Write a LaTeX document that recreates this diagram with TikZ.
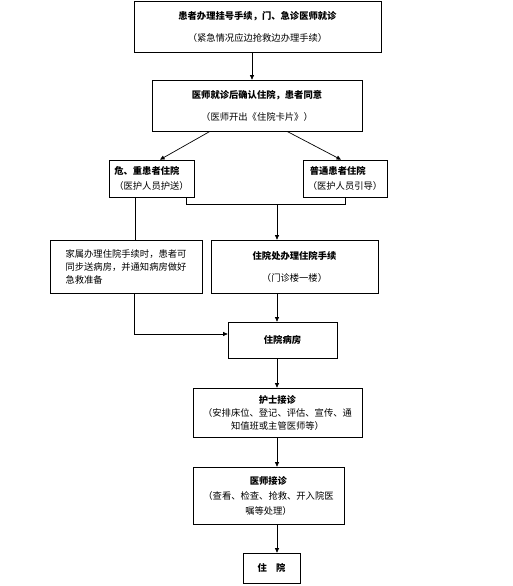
\documentclass[tikz,border=0pt]{standalone}
\usepackage{fontspec}
\setmainfont{Noto Sans CJK SC}
\usetikzlibrary{arrows.meta}

\begin{document}
\begin{tikzpicture}[x=1pt,y=-1pt,>={Triangle[length=4.5pt,width=4pt]},
  box/.style={draw,line width=0.7pt,inner sep=0pt,align=center,font=\fontsize{9.3}{13}\selectfont},
  link/.style={line width=0.7pt}]
\useasboundingbox (0,0) rectangle (513,586);
%boxes
\node[box,minimum width=247,minimum height=51](guahao) at (257.5,26.5){\textbf{患者办理挂号手续，门、急诊医师就诊}\\[9pt]（紧急情况应边抢救边办理手续）};
\node[box,minimum width=210,minimum height=51](queren) at (257,105.5){\textbf{医师就诊后确认住院，患者同意}\\[9pt]（医师开出《住院卡片》）};
\node[box,align=left,minimum width=85,minimum height=37](weizhong) at (151.5,178.5){\textbf{危、重患者住院}\\[2pt]（医护人员护送）};
\node[box,align=left,minimum width=84,minimum height=37](putong) at (345,178.5){\ \textbf{普通患者住院}\\[2pt]（医护人员引导）};
\node[box,align=left,minimum width=152,minimum height=53](jiashu) at (126,266.5){家属办理住院手续时，患者可\\同步送病房，并通知病房做好\\急救准备};
\node[box,minimum width=167,minimum height=53](zhuyuanchu) at (294.5,266.5){\textbf{住院处办理住院手续}\\[9pt]（门诊楼一楼）};
\node[box,minimum width=109,minimum height=36](bingfang) at (282.5,340){\textbf{住院病房}};
\node[box,minimum width=169,minimum height=49](hushi) at (277.5,412.5){\textbf{护士接诊}\\（安排床位、登记、评估、宣传、通\\知值班或主管医师等）};
\node[box,minimum width=151,minimum height=57](yishi) at (268.5,495.5){\textbf{医师接诊}\\[2pt]（查看、检查、抢救、开入院医\\[2pt]嘱等处理）};
\node[box,minimum width=57,minimum height=30](zhuyuan) at (271.5,568){\textbf{住\quad 院}};
\coordinate (hui) at (277,204);
%connectors
\draw[link,->](guahao.south-|252,0)--(queren.north-|252,0);
\draw[link,->](queren.south-|210,0)--(weizhong.north-|160,0);
\draw[link,->](queren.south-|287,0)--(putong.north-|341,0);
\draw[link](weizhong.south-|186,0)--(hui-|186,0)-|(putong.south-|345,0);
\draw[link,->](hui)--(zhuyuanchu.north-|hui);
\draw[link](weizhong.south-|135,0)--(jiashu.north-|135,0);
\draw[link,->](jiashu.south-|134,0)|-([yshift=6pt]bingfang.west);
\draw[link,->](zhuyuanchu.south-|hui)--(bingfang.north-|hui);
\draw[link,->](bingfang.south-|hui)--(hushi.north-|hui);
\draw[link,->](hushi.south-|hui)--(yishi.north-|hui);
\draw[link,->](yishi.south-|hui)--(zhuyuan.north-|hui);
\end{tikzpicture}
\end{document}
